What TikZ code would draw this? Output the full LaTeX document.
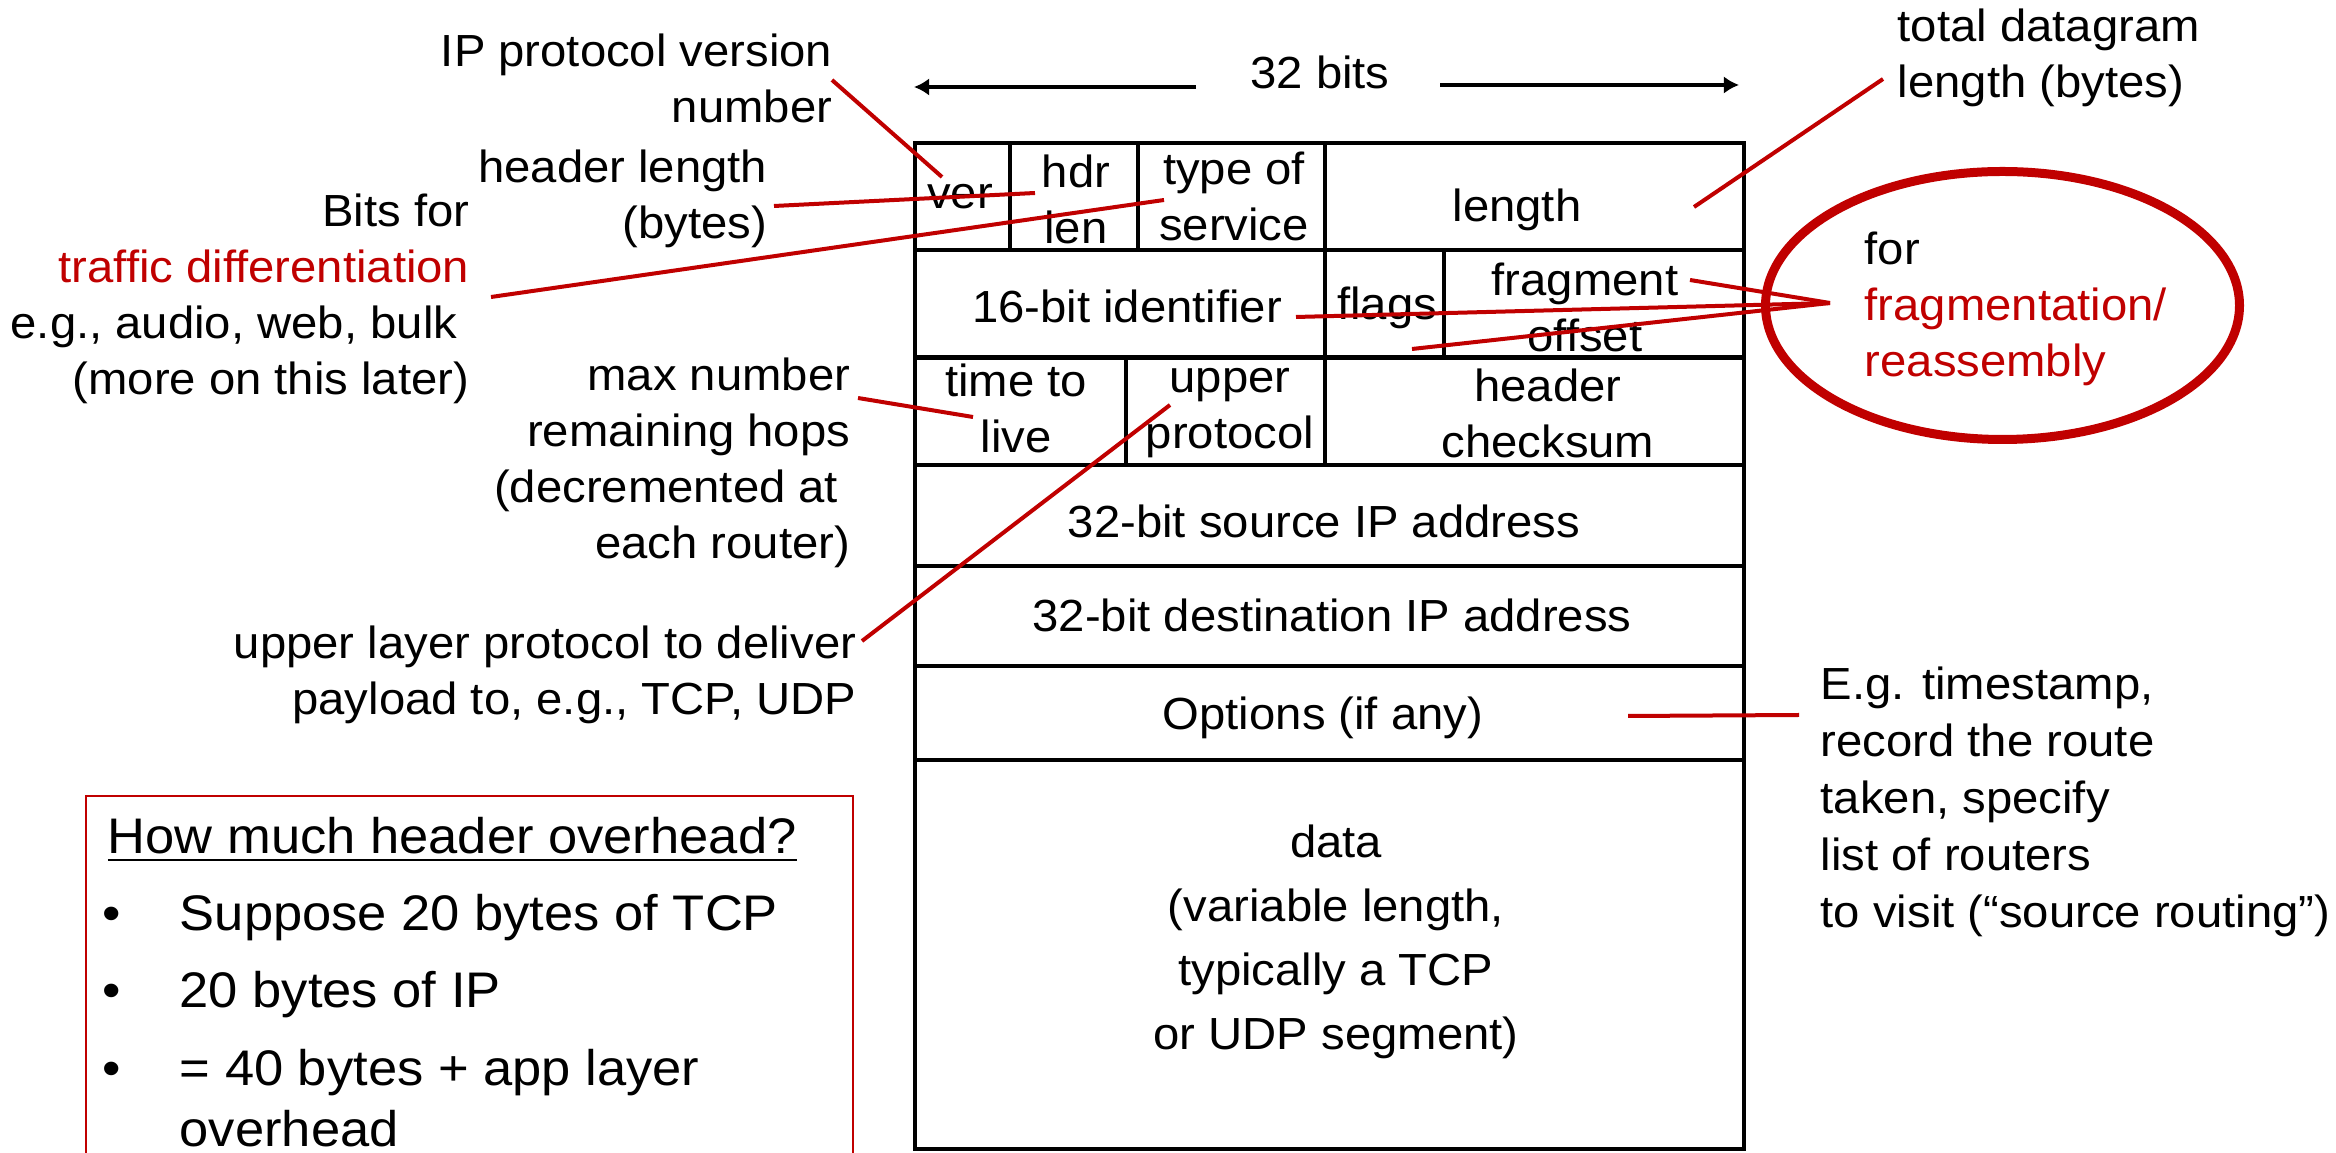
\documentclass[tikz,border=0pt]{standalone}
\usepackage{fontspec}
\setmainfont{Liberation Sans}[FakeStretch=1.05]
\usetikzlibrary{arrows.meta,shapes.geometric}
\definecolor{ipred}{RGB}{192,0,0}
\newcommand{\lblfont}{\fontsize{11.25}{14}\selectfont}
\newcommand{\boxfont}{\fontsize{12.5}{15}\selectfont}
\newcommand{\ml}[2]{\begin{tabular}[t]{@{}#1@{}}#2\end{tabular}}
\newcommand{\trail}{\kern3pt}

\begin{document}
\begin{tikzpicture}[x=0.25pt,y=-0.25pt,
  lbl/.style={inner sep=0pt, font=\lblfont},
  cellt/.style={inner sep=0pt, font=\lblfont, anchor=base},
  boxt/.style={inner sep=0pt, font=\boxfont},
  gridline/.style={line width=1.05pt},
  lead/.style={draw=ipred, line width=1pt},
  span/.style={line width=1.1pt, -{Latex[length=3.8pt,width=4.4pt]}},
  notebox/.style={draw=ipred, line width=0.7pt}]
\useasboundingbox (0,0) rectangle (2336,1153);

% header layout grid
\draw[gridline] (915,143) rectangle (1744,1149);
\foreach \yy in {250,357.5,465,566,666,760}
  \draw[gridline] (915,\yy) -- (1744,\yy);
\draw[gridline] (1010,143) -- (1010,250)
                (1138,143) -- (1138,250)
                (1325,143) -- (1325,465)
                (1444,250) -- (1444,357.5)
                (1126,357.5) -- (1126,465);

% field names
\node[cellt] (ver)   at (960,209)  {ver};
\node[cellt] (hdr)   at (1076,188) {\ml{c}{hdr\\len}};
\node[cellt] (tos)   at (1234,185) {\ml{c}{type of\\service}};
\node[cellt] (len)   at (1517,222) {length};
\node[cellt] (ident) at (1127,323) {16-bit identifier};
\node[cellt] (flags) at (1387,320) {flags};
\node[cellt] (frag)  at (1585,296) {\ml{c}{fragment\\offset}};
\node[cellt] (ttl)   at (1016,397) {\ml{c}{time to\\live}};
\node[cellt] (proto) at (1230,393) {\ml{c}{upper\\protocol}};
\node[cellt] (cksum) at (1548,402) {\ml{c}{header\\checksum}};
\node[cellt] (src)   at (1324,538) {32-bit source IP address};
\node[cellt] (dst)   at (1332,632) {32-bit destination IP address};
\node[cellt] (opts)  at (1323,730) {Options (if any)};
\node[cellt, font=\fontsize{11.25}{16}\selectfont] (data) at (1336,858)
  {\ml{c}{data\\(variable length,\\typically a TCP\\or UDP segment)}};

% width marker
\node[cellt] (bits) at (1320,89) {32 bits};
\coordinate (spanL0) at (1196,87);
\coordinate (spanL1) at (914,87);
\coordinate (spanR0) at (1440,85);
\coordinate (spanR1) at (1739,85);
\draw[span] (spanL0) -- (spanL1);
\draw[span] (spanR0) -- (spanR1);

% annotations on the left
\node[lbl, anchor=base east] (ipverlbl) at (833,67) {\ml{r}{IP protocol version\\number}};
\node[lbl, anchor=base east] (hdrlbl) at (768,183) {\ml{r}{header length\\(bytes)}};
\node[lbl, anchor=base east] (toslbl) at (470,227)
  {\ml{r}{Bits for\\\textcolor{ipred}{traffic differentiation}\\e.g., audio, web, bulk\trail\\(more on this later)}};
\node[lbl, anchor=base east] (ttllbl) at (851,391)
  {\ml{r}{max number\\remaining hops\\(decremented at\trail\\each router)}};
\node[lbl, anchor=base east] (protolbl) at (857,659)
  {\ml{r}{upper layer protocol to deliver\\payload to, e.g., TCP, UDP}};

% annotations on the right
\node[lbl, anchor=base west] (lenlbl) at (1897,42) {\ml{l}{total datagram\\length (bytes)}};
\node[lbl, anchor=base west] (fraglbl) at (1864,265)
  {\ml{l}{for\\\textcolor{ipred}{fragmentation/}\\\textcolor{ipred}{reassembly}}};
\node[lbl, anchor=base west, font=\fontsize{11.25}{14.25}\selectfont] (optlbl) at (1820,700)
  {\ml{l}{E.g. timestamp,\\record the route\\taken, specify\\list of routers\\to visit (“source routing”)}};
\node[draw=ipred, line width=2.25pt, ellipse, inner sep=0pt,
      minimum width=118.5pt, minimum height=67pt] (ring) at (2002.5,305.5) {};

% leader lines
\coordinate (verA) at (832,80);    \coordinate (verB) at (942,177);
\coordinate (hlA) at (774,206);    \coordinate (hlB) at (1035,193);
\coordinate (tosA) at (491,297);   \coordinate (tosB) at (1164,200);
\coordinate (ttlA) at (858,398);   \coordinate (ttlB) at (973,417);
\coordinate (upA) at (862,641);    \coordinate (upB) at (1170,405);
\coordinate (lenA) at (1883,79);   \coordinate (lenB) at (1694,207);
\coordinate (optA) at (1628,716);  \coordinate (optB) at (1799,715);
\coordinate (fragHub) at (1830,303);
\coordinate (fragB) at (1690,280); \coordinate (idB) at (1296,317);
\coordinate (offB) at (1412,349);
\draw[lead] (verA) -- (verB);
\draw[lead] (hlA) -- (hlB);
\draw[lead] (tosA) -- (tosB);
\draw[lead] (ttlA) -- (ttlB);
\draw[lead] (upA) -- (upB);
\draw[lead] (lenA) -- (lenB);
\draw[lead] (optA) -- (optB);
\draw[lead] (fragHub) -- (fragB);
\draw[lead] (fragHub) -- (idB);
\draw[lead] (fragHub) -- (offB);

% overhead note
\draw[notebox] (86,1153) -- (86,796) -- (853,796) -- (853,1153);
\node[boxt, anchor=base west] (howmuch) at (107,854) {\underline{How much header overhead?}};
\node[boxt, anchor=base] (dot1) at (112,931) {•};
\node[boxt, anchor=base west] (item1) at (179,931) {Suppose 20 bytes of TCP};
\node[boxt, anchor=base] (dot2) at (112,1008) {•};
\node[boxt, anchor=base west] (item2) at (179,1008) {20 bytes of IP};
\node[boxt, anchor=base] (dot3) at (112,1086) {•};
\node[boxt, anchor=base west] (item3) at (179,1086) {= 40 bytes + app layer};
\node[boxt, anchor=base west] (item3b) at (179,1147) {overhead};
\end{tikzpicture}
\end{document}
